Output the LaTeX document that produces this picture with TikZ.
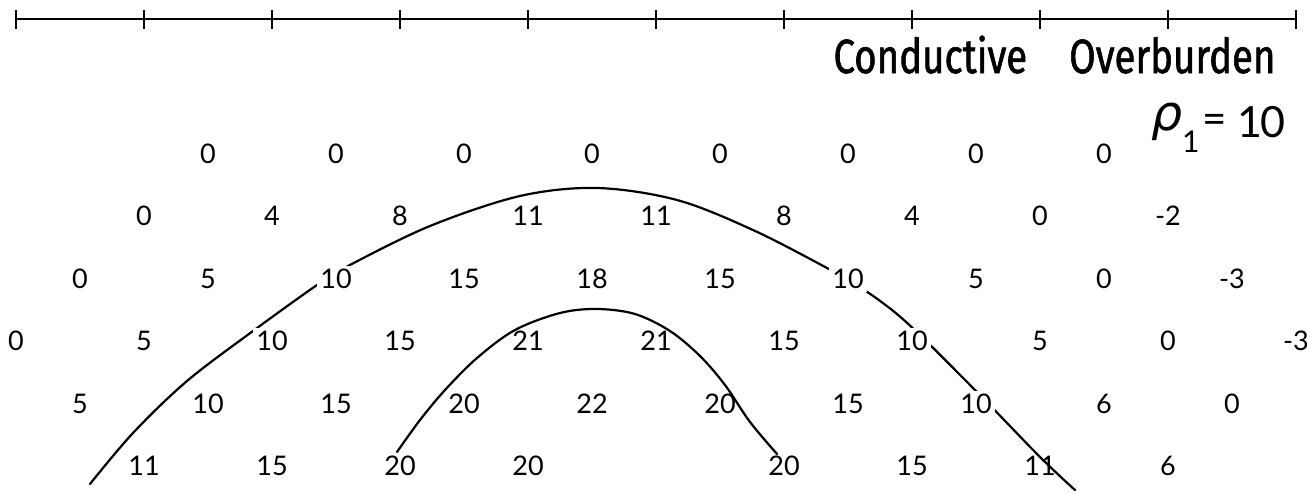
\documentclass[tikz,border=0pt]{standalone}
\usepackage{fontspec}
\setmainfont{Lato}
\newfontfamily\titlefont[FakeStretch=0.8, FakeBold=1.2]{Fira Sans}
\newfontfamily\rhofont{DejaVu Sans}
\usetikzlibrary{positioning}

\tikzset{
    val/.style={inner sep=1pt, font=\fontsize{27}{30}\selectfont},
    cut/.style={val, fill=white, inner sep=3pt},
    contour/.style={line width=2.2pt, line cap=round},
}

\begin{document}
\begin{tikzpicture}[x=1pt, y=-1pt]
    \useasboundingbox (0,0) rectangle (1307,493);

    % electrode line with ticks
    \draw[line width=2.2pt] (16,19) -- (1296,19);
    \foreach \k in {0,...,10}
        \draw[line width=1.6pt] ({16+128*\k},10) -- ({16+128*\k},29);

    % contour lines
    \draw[contour] plot[smooth, tension=0.55] coordinates {
        (90,484) (133,433) (187,381) (253,331) (317,285) (348,266) (430,226)
        (520,196) (597,188) (677,200) (753,230) (827,268) (860,287) (905,321)
        (975,390) (1040,457) (1075,490)};
    \draw[contour] plot[smooth, tension=0.55] coordinates {
        (397,452) (420,420) (445,390) (477,358) (515,330) (560,313) (597,309)
        (635,314) (670,331) (700,356) (725,385) (750,422) (777,454)};

    % labels
    \node[anchor=base east, font=\titlefont\fontsize{48}{50}\selectfont] (title) at (1279,73)
        {Conductive\hspace*{42pt}Overburden};
    \node[anchor=base, inner sep=0pt, font=\rhofont\itshape\fontsize{49}{49}\selectfont] (rho) at (1167,130) {ρ};
    \node[anchor=base west, inner sep=0pt, font=\fontsize{30}{30}\selectfont] (rhosub) at (1182,152) {1};
    \node[inner sep=0pt, font=\fontsize{42}{42}\selectfont] (eq) at (1215,124) {=};
    \node[anchor=base east, inner sep=0pt, font=\fontsize{43}{48}\selectfont] (rhoval) at (1286,137) {1\kern-1.5pt0};

    % apparent resistivity values, n = 1 ... 6
    \foreach \v [count=\i] in {0,0,0,0,0,0,0,0}
        \node[val] (r1n\i) at ({80+128*\i},154) {\v};
    \foreach \v [count=\i] in {0,4,8,11,11,8,4,0,-2}
        \node[val] (r2n\i) at ({16+128*\i},216) {\v};
    \foreach \v/\st [count=\i] in {0/val,5/val,10/cut,15/val,18/val,15/val,10/cut,5/val,0/val,-3/val}
        \node[\st] (r3n\i) at ({-48+128*\i},279) {\v};
    \foreach \v/\st [count=\i] in {0/val,5/val,10/cut,15/val,21/val,21/val,15/val,10/cut,5/val,0/val,-3/val}
        \node[\st] (r4n\i) at ({-112+128*\i},341) {\v};
    \foreach \v/\st [count=\i] in {5/val,10/val,15/val,20/val,22/val,20/val,15/val,10/cut,6/val,0/val}
        \node[\st] (r5n\i) at ({-48+128*\i},404) {\v};
    \foreach \v [count=\i] in {11,15,20,20}
        \node[val] (r6n\i) at ({16+128*\i},466) {\v};
    \foreach \v [count=\i] in {20,15,11,6}
        \node[val] (r6m\i) at ({656+128*\i},466) {\v};
\end{tikzpicture}
\end{document}
